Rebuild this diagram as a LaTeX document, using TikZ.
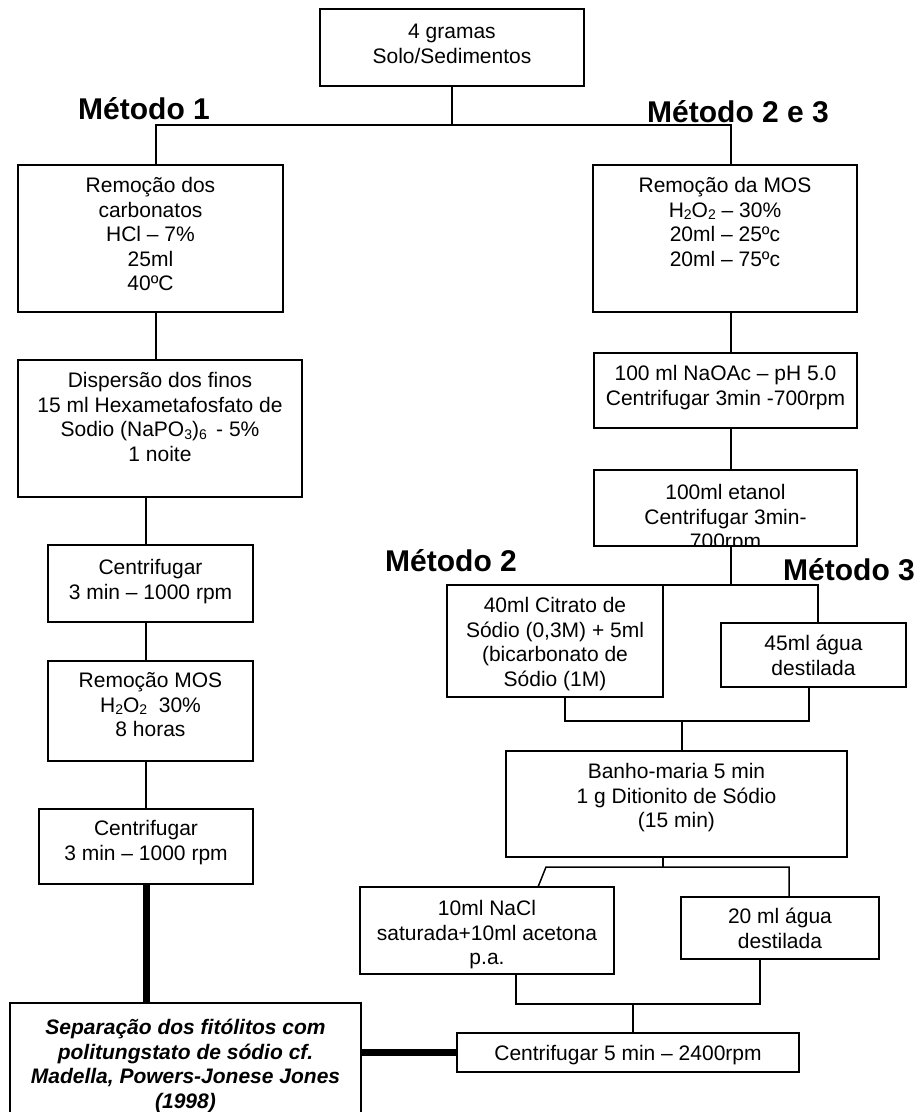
\documentclass[tikz,border=0pt]{standalone}
\usepackage{fontspec}
\setmainfont{Liberation Sans}
\newcommand{\sbs}[1]{\raisebox{-0.25ex}{\fontsize{14}{14}\selectfont #1}}
\tikzset{
  box/.style={draw, line width=1.5pt, inner sep=0pt, outer sep=0pt, anchor=north west},
  txt/.style={align=center, anchor=base, inner sep=0pt, font=\fontsize{21}{24.5}\selectfont},
  lbl/.style={anchor=base west, inner sep=0pt, font=\fontsize{30}{30}\selectfont\bfseries},
  conn/.style={line width=1.5pt},
  thickconn/.style={line width=7pt}
}
\begin{document}
\begin{tikzpicture}[x=1pt,y=-1pt]
\clip (0,0) rectangle (922,1112);
\fill[white] (0,0) rectangle (922,1112);

% boxes
\node[box, minimum width=264, minimum height=77] (top) at (320,9) {};
\node[box, minimum width=265, minimum height=147] (a1) at (18,165) {};
\node[box, minimum width=284, minimum height=137] (a2) at (18,360) {};
\node[box, minimum width=205, minimum height=77] (a3) at (48,545) {};
\node[box, minimum width=205, minimum height=100] (a4) at (48,661) {};
\node[box, minimum width=214, minimum height=75] (a5) at (39,809) {};
\node[box, minimum width=351, minimum height=130] (a6) at (10,1003) {};
\node[box, minimum width=264, minimum height=147] (b1) at (593,165) {};
\node[box, minimum width=263, minimum height=75] (b2) at (594,353) {};
\node[box, minimum width=263, minimum height=76] (b3) at (594,470) {};
\node[box, minimum width=216, minimum height=112] (c1) at (447,585) {};
\node[box, minimum width=185, minimum height=64] (c2) at (721,623) {};
\node[box, minimum width=341, minimum height=106] (d) at (506,751) {};
\node[box, minimum width=254, minimum height=87] (e1) at (360,887) {};
\node[box, minimum width=198, minimum height=62] (e2) at (681,897) {};
\node[box, minimum width=342, minimum height=39] (f) at (457,1033) {};

% texts (anchor = baseline of the last line)
\node[txt] (ttop) at (452,63) {4 gramas\\Solo/Sedimentos};
\node[txt] (ta1) at (150.5,290.5) {Remoção dos\\carbonatos\\HCl – 7\%\\25ml\\40ºC};
\node[txt] (ta2) at (160,461) {Dispersão dos finos\\15 ml Hexametafosfato de\\Sodio (NaPO\sbs{3})\sbs{6}\, - 5\%\\1 noite};
\node[txt] (ta3) at (150.5,599) {Centrifugar\\3 min – 1000 rpm};
\node[txt] (ta4) at (150.5,736.5) {Remoção MOS\\H\sbs{2}O\sbs{2}\ \ 30\%\\8 horas};
\node[txt] (ta5) at (146,860) {Centrifugar\\3 min – 1000 rpm};
\node[txt, font=\fontsize{21}{24.5}\selectfont\bfseries\itshape] (ta6) at (185.5,1108) {Separação dos fitólitos com\\politungstato de sódio cf.\\Madella, Powers-Jonese Jones\\(1998)};
\node[txt] (tb1) at (725,266) {Remoção da MOS\\H\sbs{2}O\sbs{2} – 30\%\\20ml – 25ºc\\20ml – 75ºc};
\node[txt] (tb2) at (725.5,405) {100 ml NaOAc – pH 5.0\\Centrifugar 3min -700rpm};
\begin{scope}
\clip (b3.south west) rectangle (b3.north east);
\node[txt] (tb3) at (725.5,548.5) {100ml etanol\\Centrifugar 3min-\\700rpm};
\end{scope}
\node[txt] (tc1) at (555,686) {40ml Citrato de\\Sódio (0,3M) + 5ml\\(bicarbonato de\\Sódio (1M)};
\node[txt] (tc2) at (813.5,675) {45ml água\\destilada};
\node[txt] (td) at (676.5,827.5) {Banho-maria 5 min\\1 g Ditionito de Sódio\\(15 min)};
\node[txt] (te1) at (487,964.5) {10ml NaCl\\saturada+10ml acetona\\p.a.};
\node[txt] (te2) at (780,948) {20 ml água\\destilada};
\node[txt] (tf) at (628,1060.5) {Centrifugar 5 min – 2400rpm};

% labels
\node[lbl] (m1) at (78,119) {Método 1};
\node[lbl] (m23) at (647,122) {Método 2 e 3};
\node[lbl] (m2) at (385,571) {Método 2};
\node[lbl] (m3) at (783,580) {Método 3};

% junction coordinates
\coordinate (jtop) at (452,125);
\coordinate (jl) at (156,125);
\coordinate (jr) at (731,125);
\coordinate (xl2) at (146,0);
\coordinate (j2l) at (593,585);
\coordinate (j2r) at (818,585);
\coordinate (k1) at (565,721);
\coordinate (k2) at (809,721);
\coordinate (m0) at (682,721);
\coordinate (n0) at (663,867);
\coordinate (n1) at (546,867);
\coordinate (n2) at (789,867);
\coordinate (n3) at (538,887);
\coordinate (p1) at (516,1004);
\coordinate (p2) at (760,1004);
\coordinate (p0) at (633,1004);

% connectors
\draw[conn] (top.south -| jtop) -- (jtop);
\draw[conn] (a1.north -| jl) -- (jl) -- (jr) -- (b1.north -| jr);
\draw[conn] (a1.south -| jl) -- (a2.north -| jl);
\draw[conn] (a2.south -| xl2) -- (a3.north -| xl2);
\draw[conn] (a3.south -| xl2) -- (a4.north -| xl2);
\draw[conn] (a4.south -| xl2) -- (a5.north -| xl2);
\draw[thickconn] (a5.south -| xl2) -- (a6.north -| xl2);
\draw[conn] (b1.south -| jr) -- (b2.north -| jr);
\draw[conn] (b2.south -| jr) -- (b3.north -| jr);
\draw[conn] (b3.south -| jr) -- (c1.north -| jr);
\draw[conn] (c1.north -| j2l) -- (j2r) -- (c2.north -| j2r);
\draw[conn] (c1.south -| k1) -- (k1) -- (k2) -- (c2.south -| k2);
\draw[conn] (m0) -- (d.north -| m0);
\draw[conn] (d.south -| n0) -- (n0);
\draw[conn] (e1.north -| n3) -- (n1) -- (n2) -- (e2.north -| n2);
\draw[conn] (e1.south -| p1) -- (p1) -- (p2) -- (e2.south -| p2);
\draw[conn] (p0) -- (f.north -| p0);
\draw[thickconn] (a6.east |- f.west) -- (f.west);
\end{tikzpicture}
\end{document}
